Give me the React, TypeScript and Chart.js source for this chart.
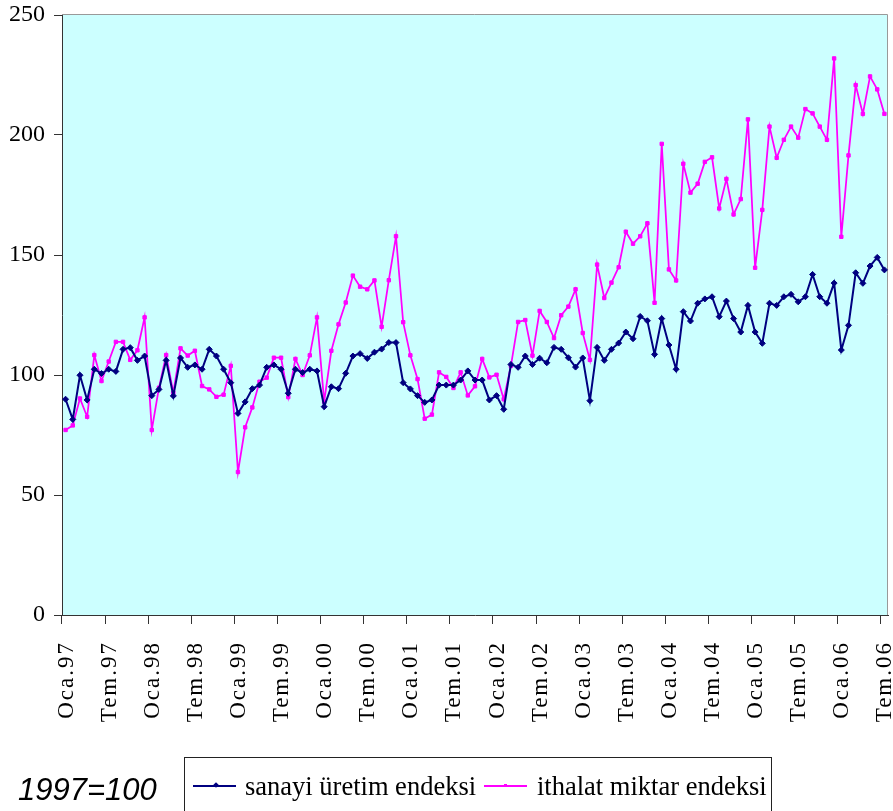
import React, { useEffect, useRef } from 'react';
import { Chart, registerables } from 'chart.js';

Chart.register(...registerables);

// ---- data ----
const MONTHS = ['Oca', 'Şub', 'Mar', 'Nis', 'May', 'Haz', 'Tem', 'Ağu', 'Eyl', 'Eki', 'Kas', 'Ara'];
const YEARS = ['97', '98', '99', '00', '01', '02', '03', '04', '05', '06'];

const SANAYI = [
  89.9, 81.5, 99.9, 89.6, 102.4, 100.6, 102.4, 101.5, 110.7, 111.4, 106.1, 107.9,
  91.4, 94.0, 106.1, 91.3, 107.1, 103.2, 104.2, 102.4, 110.7, 107.9, 102.4, 96.8,
  84.0, 88.8, 94.3, 95.8, 103.2, 104.2, 102.4, 92.4, 102.4, 101.0, 102.4, 101.7,
  86.8, 95.1, 94.3, 100.7, 107.9, 108.9, 106.9, 109.5, 110.8, 113.5, 113.5, 96.8,
  94.2, 91.4, 88.6, 89.6, 95.8, 95.8, 95.8, 97.9, 101.7, 97.9, 97.9, 89.6,
  91.4, 85.7, 104.4, 103.2, 107.9, 104.4, 107.0, 105.1, 111.5, 110.7, 107.2, 103.3,
  107.1, 89.3, 111.5, 106.1, 110.7, 113.3, 117.9, 115.1, 124.4, 122.6, 108.6, 123.5,
  112.5, 102.4, 126.4, 122.5, 129.9, 131.7, 132.6, 124.3, 130.8, 123.5, 117.9, 129.0,
  117.9, 113.2, 129.9, 129.0, 132.6, 133.6, 130.5, 132.6, 141.9, 132.6, 129.9, 138.3,
  110.4, 120.7, 142.6, 138.2, 145.4, 149.0, 143.8,
];

const ITHALAT = [
  77.1, 79.0, 90.2, 82.6, 108.3, 97.5, 105.6, 113.8, 113.8, 106.3, 110.3, 124.0,
  77.1, 94.7, 108.3, 92.6, 111.1, 108.1, 110.1, 95.4, 94.0, 90.9, 91.8, 103.8,
  59.6, 78.2, 86.5, 97.2, 98.9, 107.2, 107.2, 90.8, 106.7, 100.0, 108.2, 124.0,
  88.9, 110.1, 121.1, 130.2, 141.4, 136.8, 135.7, 139.4, 120.1, 139.5, 157.8, 122.0,
  108.2, 98.3, 81.8, 83.5, 101.1, 99.2, 94.6, 101.1, 91.5, 95.3, 106.7, 99.0,
  100.1, 89.9, 103.8, 122.1, 122.9, 108.1, 126.7, 122.1, 115.4, 124.9, 128.5, 135.7,
  117.5, 106.3, 146.0, 132.1, 138.5, 144.9, 159.7, 154.7, 157.8, 163.2, 130.1, 196.3,
  144.0, 139.4, 188.0, 176.0, 179.7, 188.8, 190.7, 169.4, 181.7, 166.9, 173.3, 206.5,
  144.7, 168.8, 203.5, 190.5, 198.0, 203.5, 198.9, 210.8, 209.0, 203.5, 198.0, 231.9,
  157.6, 191.5, 220.8, 208.8, 224.4, 219.0, 208.8,
];

const CATEGORIES: string[] = SANAYI.map((_, i) => `${MONTHS[i % 12]}.${YEARS[Math.floor(i / 12)]}`);
const Y_TICKS = [0, 50, 100, 150, 200, 250];
const LABEL_EVERY = 6;

const SERIES_NAMES = ['sanayi üretim endeksi', 'ithalat miktar endeksi'];
const BASE_NOTE = '1997=100';

const SERIF = "'Liberation Serif', 'Times New Roman', serif";
const NAVY = '#000080';
const MAGENTA = '#FF00FF';

export default function App() {
  const ref = useRef<HTMLCanvasElement>(null);

  useEffect(() => {
    const canvas = ref.current;
    if (!canvas) return;

    const plotBg = {
      id: 'plotBg',
      beforeDraw(chart: any) {
        const { ctx, chartArea: a } = chart;
        ctx.save();
        ctx.fillStyle = '#CCFFFF';
        ctx.fillRect(a.left, a.top, a.right - a.left, a.bottom - a.top);
        ctx.strokeStyle = '#999999';
        ctx.lineWidth = 1;
        ctx.beginPath();
        ctx.moveTo(a.left, a.top - 0.5);
        ctx.lineTo(a.right - 0.5, a.top - 0.5);
        ctx.lineTo(a.right - 0.5, a.bottom);
        ctx.stroke();
        ctx.restore();
        const xs = chart.scales.x;
        if (xs && !xs.__spaced) {
          const orig = xs.drawLabels.bind(xs);
          xs.drawLabels = (area: any) => {
            const c = chart.ctx as any;
            c.save();
            c.letterSpacing = '2px';
            orig(area);
            c.restore();
          };
          xs.__spaced = true;
        }
      },
    };

    const chart = new Chart(canvas, {
      type: 'line',
      data: {
        labels: CATEGORIES,
        datasets: [
          {
            label: SERIES_NAMES[0],
            data: SANAYI,
            borderColor: NAVY,
            backgroundColor: NAVY,
            borderWidth: 2,
            pointStyle: 'rectRot',
            pointRadius: 3,
            pointBorderWidth: 1,
            pointBorderColor: NAVY,
            pointBackgroundColor: NAVY,
            tension: 0,
            fill: false,
          },
          {
            label: SERIES_NAMES[1],
            data: ITHALAT,
            borderColor: MAGENTA,
            backgroundColor: MAGENTA,
            borderWidth: 1.75,
            pointStyle: 'rect',
            pointRadius: 2.4,
            pointBorderWidth: 1,
            pointBorderColor: MAGENTA,
            pointBackgroundColor: MAGENTA,
            tension: 0,
            fill: false,
          },
        ],
      },
      options: {
        animation: false,
        responsive: false,
        devicePixelRatio: 1,
        events: [],
        layout: { padding: { left: 0, right: 4, top: 15, bottom: 71 } },
        plugins: {
          legend: { display: false },
          tooltip: { enabled: false },
        },
        scales: {
          x: {
            type: 'category',
            offset: true,
            grid: {
              offset: true,
              drawOnChartArea: false,
              drawTicks: true,
              tickLength: 9,
              lineWidth: 1,
              color: (c: any) => (c.index % LABEL_EVERY === 0 ? '#333333' : 'rgba(0,0,0,0)'),
            },
            border: { display: true, color: '#333333', width: 1 },
            ticks: {
              autoSkip: false,
              maxRotation: 90,
              minRotation: 90,
              padding: 17,
              labelOffset: 1,
              color: '#000000',
              font: { family: SERIF, size: 23 },
              callback: (_v: any, i: number) => (i % LABEL_EVERY === 0 ? CATEGORIES[i] : ''),
            },
            afterFit: (s: any) => {
              s.height = 125;
              s.paddingLeft = 0;
              s.paddingRight = 0;
            },
          },
          y: {
            min: Y_TICKS[0],
            max: Y_TICKS[Y_TICKS.length - 1],
            ticks: {
              stepSize: Y_TICKS[1] - Y_TICKS[0],
              padding: 9,
              color: '#000000',
              font: { family: SERIF, size: 24 },
            },
            grid: { drawOnChartArea: false, drawTicks: true, tickLength: 8, color: '#333333' },
            border: { display: true, color: '#333333', width: 1 },
            afterFit: (s: any) => {
              s.width = 62;
              s.paddingTop = 0;
              s.paddingBottom = 0;
            },
          },
        },
      },
      plugins: [plotBg],
    } as any);

    return () => chart.destroy();
  }, []);

  const legendText: React.CSSProperties = {
    position: 'absolute',
    top: 15,
    fontFamily: SERIF,
    fontSize: 26.5,
    lineHeight: 1,
    color: '#000',
    whiteSpace: 'nowrap',
  };

  return (
    <div style={{ position: 'relative', width: 893, height: 811, overflow: 'hidden', background: '#fff' }}>
      <style>{'html,body{margin:0;padding:0;overflow:hidden;background:#fff;}'}</style>
      <canvas ref={ref} width={893} height={811} style={{ position: 'absolute', left: 0, top: 0, width: 893, height: 811 }} />
      <div
        style={{
          position: 'absolute',
          left: 18,
          top: 774,
          fontFamily: "'Liberation Sans', Arial, sans-serif",
          fontStyle: 'italic',
          fontSize: 31,
          lineHeight: 1,
          color: '#000',
          whiteSpace: 'nowrap',
        }}
      >
        {BASE_NOTE}
      </div>
      <div
        style={{
          position: 'absolute',
          left: 184,
          top: 757,
          width: 588,
          height: 80,
          boxSizing: 'border-box',
          border: '1px solid #222',
          background: '#fff',
        }}
      >
        <div style={{ position: 'absolute', left: 8, top: 27, width: 43, height: 1.5, background: NAVY }} />
        <div
          style={{
            position: 'absolute',
            left: 29,
            top: 25,
            width: 4,
            height: 4,
            background: NAVY,
            transform: 'rotate(45deg)',
          }}
        />
        <div style={{ ...legendText, left: 60 }}>{SERIES_NAMES[0]}</div>
        <div style={{ position: 'absolute', left: 299, top: 27, width: 43, height: 1.5, background: MAGENTA }} />
        <div style={{ position: 'absolute', left: 319, top: 26, width: 3, height: 3, background: MAGENTA }} />
        <div style={{ ...legendText, left: 352 }}>{SERIES_NAMES[1]}</div>
      </div>
    </div>
  );
}
